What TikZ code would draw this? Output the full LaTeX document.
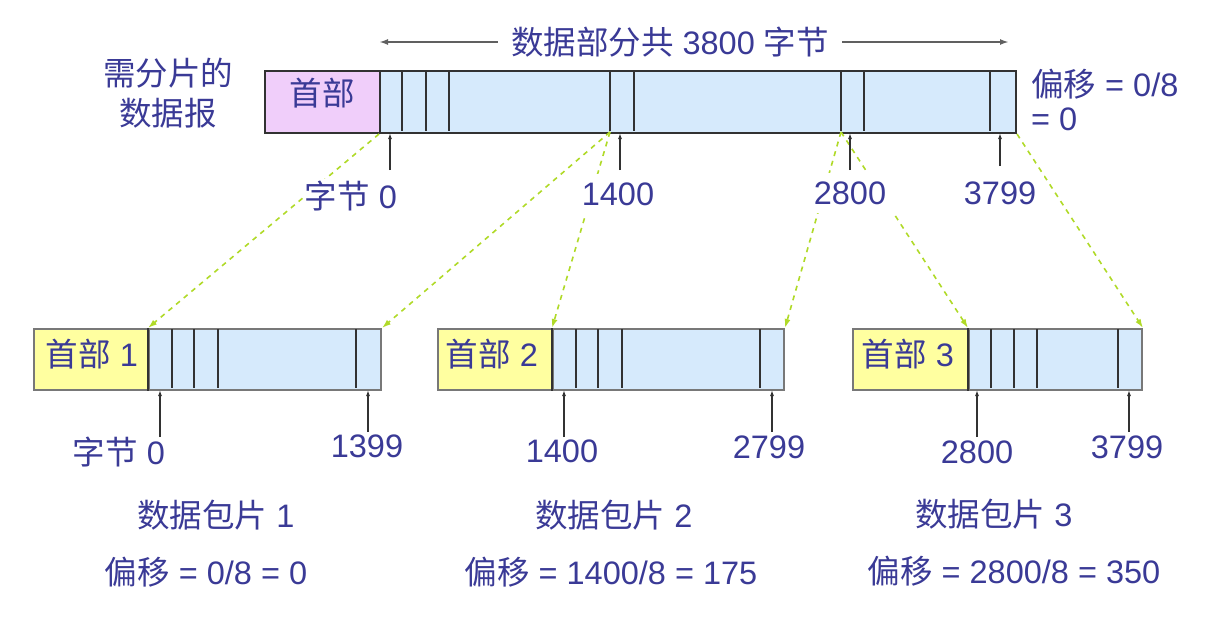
\documentclass[tikz,border=0pt]{standalone}
\usepackage{fontspec}
\setmainfont{Liberation Sans}
\newfontfamily\cjk{Noto Sans CJK SC}
\usetikzlibrary{arrows.meta}
\definecolor{txt}{RGB}{58,58,150}
\definecolor{hdrpink}{RGB}{240,206,250}
\definecolor{hdryel}{RGB}{255,255,160}
\definecolor{datab}{RGB}{214,234,252}
\definecolor{gline}{RGB}{176,218,40}
\definecolor{dk}{RGB}{50,50,50}
\definecolor{gr}{RGB}{120,120,120}
\begin{document}
\begin{tikzpicture}[x=1pt,y=-1pt,
  lbl/.style={text=txt, font=\fontsize{32.5}{36}\selectfont, inner sep=1pt},
  wlbl/.style={lbl, fill=white, inner sep=8pt},
  topbox/.style={draw=dk, line width=2pt, inner sep=0pt, minimum height=62, anchor=north west},
  fragbox/.style={draw=gr, line width=2pt, inner sep=0pt, minimum height=61, anchor=north west},
  sepline/.style={draw=dk, line width=1.6pt},
  uparr/.style={draw=dk, line width=1.3pt, -{Latex[length=6pt,width=4pt]}},
  spanarr/.style={draw=gr!80!black, line width=2pt, -{Latex[length=9pt,width=6pt]}},
  gdash/.style={draw=gline, line width=1.6pt, dash pattern=on 5pt off 5pt, -{Latex[length=9pt,width=6pt]}}]
\useasboundingbox (0,0) rectangle (1221,616);

% ---------- original datagram ----------
\node[topbox, fill=hdrpink, minimum width=115] (H) at (264,70) {};
\node[topbox, fill=datab, minimum width=636] (D) at (379,70) {};
\foreach \x in {402,426,449,610,634,841,864,990}
  \draw[sepline] (\x,71) -- (\x,131);
\node[lbl] (Ht) at (322,93) {\cjk 首部};

% ---------- fragments ----------
\node[fragbox, fill=hdryel, minimum width=115] (F1h) at (33,328) {};
\node[fragbox, fill=datab, minimum width=232] (F1d) at (148,328) {};
\node[fragbox, fill=hdryel, minimum width=115] (F2h) at (437,328) {};
\node[fragbox, fill=datab, minimum width=231] (F2d) at (552,328) {};
\node[fragbox, fill=hdryel, minimum width=116] (F3h) at (852,328) {};
\node[fragbox, fill=datab, minimum width=173] (F3d) at (968,328) {};
\foreach \x in {172,194,218,356,576,598,622,760,991,1014,1037,1118}
  \draw[sepline] (\x,329) -- (\x,388);
\draw[draw=dk, line width=1.6pt] (F1d.north west) -- (F1d.south west);
\draw[draw=dk, line width=1.6pt] (F2d.north west) -- (F2d.south west);
\draw[draw=dk, line width=1.6pt] (F3d.north west) -- (F3d.south west);
\node[lbl] (F1t) at (92,354) {{\cjk 首部} 1};
\node[lbl] (F2t) at (492,354) {{\cjk 首部} 2};
\node[lbl] (F3t) at (908,354) {{\cjk 首部} 3};

% ---------- green dashed mapping lines ----------
\coordinate (s1400) at (610,132);
\coordinate (s2800) at (841,132);
\draw[gdash] (D.south west) -- (F1d.north west);
\draw[gdash] (s1400) -- (F1d.north east);
\draw[gdash] (s1400) -- (F2d.north west);
\draw[gdash] (s2800) -- (F2d.north east);
\draw[gdash] (s2800) -- (F3d.north west);
\draw[gdash] (D.south east) -- (F3d.north east);

% ---------- span arrow and title ----------
\node[lbl] (title) at (670,42) {{\cjk 数据部分共} 3800 {\cjk 字节}};
\coordinate (spanL) at (379,42);
\coordinate (spanR) at (1009,42);
\draw[spanarr] (title.west) ++(-12,0) -- (spanL);
\draw[spanarr] (title.east) ++(12,0) -- (spanR);

% ---------- side labels ----------
\node[lbl] (need1) at (168,73) {\cjk 需分片的};
\node[lbl] (need2) at (168,113) {\cjk 数据报};
\node[lbl, anchor=west] (off0a) at (1030,84) {{\cjk 偏移} = 0/8};
\node[lbl, anchor=west] (off0b) at (1030,119) {= 0};

% ---------- top byte labels ----------
\node[wlbl, inner sep=2pt] (b0) at (351,196) {{\cjk 字节} 0};
\node[wlbl] (b1400) at (618,194) {1400};
\node[wlbl] (b2800) at (850,193) {2800};
\node[wlbl] (b3799) at (1000,193) {3799};
\draw[uparr] (390,170) -- (390,133);
\draw[uparr] (620,170) -- (620,133);
\draw[uparr] (850,170) -- (850,133);
\draw[uparr] (1000,166) -- (1000,133);

% ---------- bottom byte labels ----------
\node[lbl] (c0) at (119,452) {{\cjk 字节} 0};
\node[lbl] (c1399) at (367,446) {1399};
\node[lbl] (c1400) at (562,451) {1400};
\node[lbl] (c2799) at (769,447) {2799};
\node[lbl] (c2800) at (977,452) {2800};
\node[lbl] (c3799) at (1127,447) {3799};
\foreach \x/\y in {160/437,368/432,564/437,772/432,977/437,1129/432}
  \draw[uparr] (\x,\y) -- (\x,390);

% ---------- fragment captions ----------
\node[lbl] (p1) at (216,515) {{\cjk 数据包片} 1};
\node[lbl] (p2) at (614,515) {{\cjk 数据包片} 2};
\node[lbl] (p3) at (994,514) {{\cjk 数据包片} 3};
\node[lbl] (o1) at (206,572) {{\cjk 偏移} = 0/8 = 0};
\node[lbl] (o2) at (611,572) {{\cjk 偏移} = 1400/8 = 175};
\node[lbl] (o3) at (1014,571) {{\cjk 偏移} = 2800/8 = 350};
\end{tikzpicture}
\end{document}
